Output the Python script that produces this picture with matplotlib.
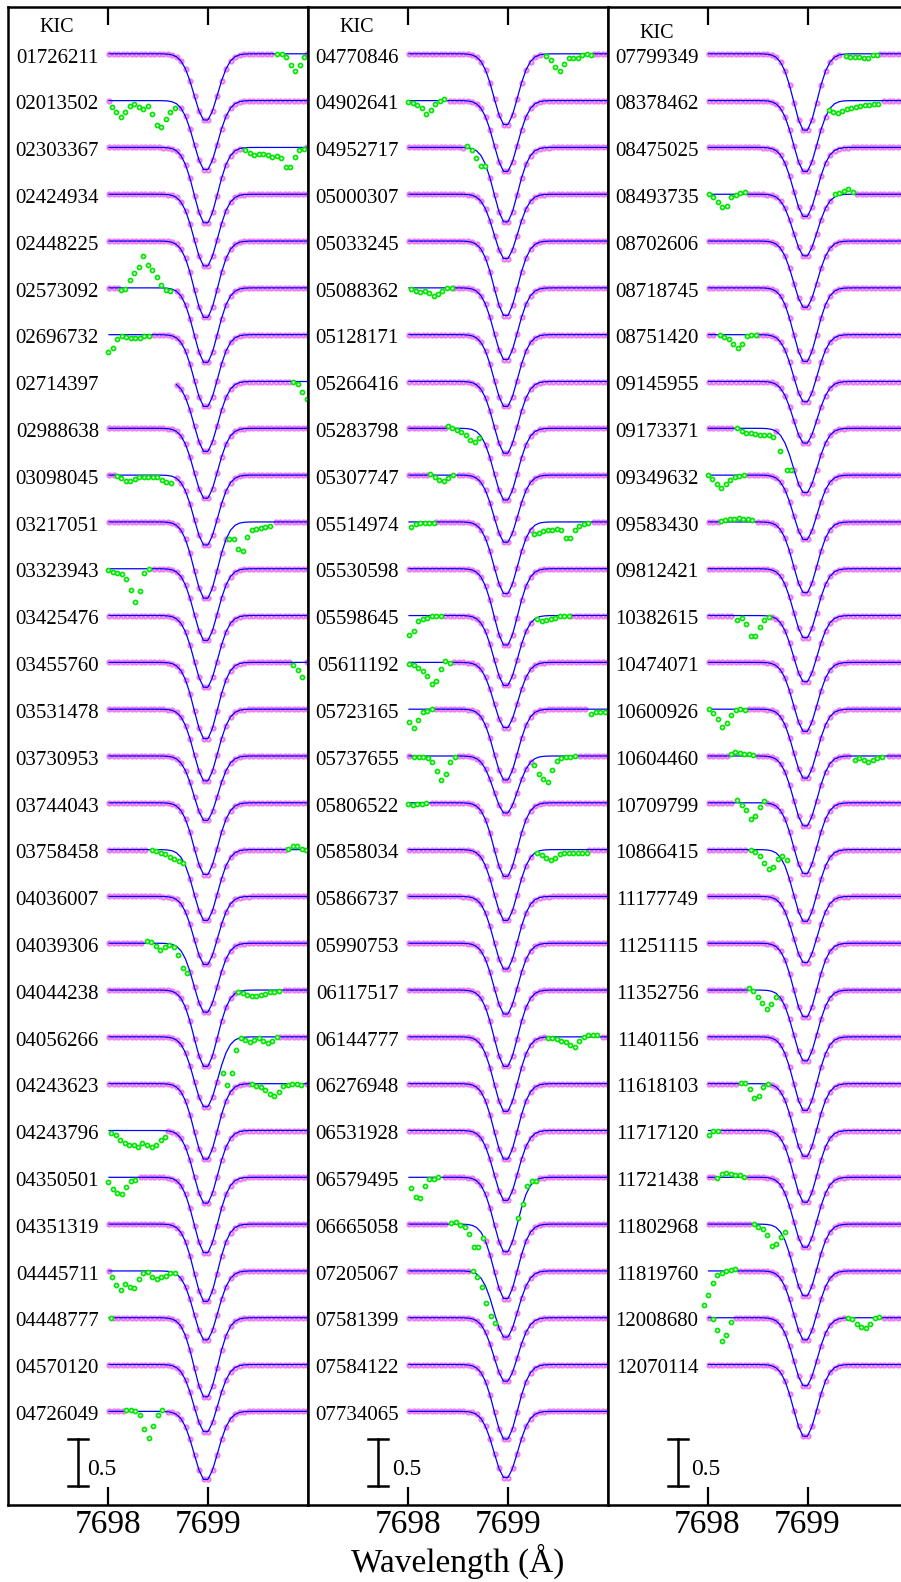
import numpy as np
import matplotlib
matplotlib.use("Agg")
import matplotlib.pyplot as plt

plt.rcParams['font.family'] = ['Liberation Serif', 'DejaVu Serif']

# ---- star identifiers, one list per column ----
KIC_1 = ["01726211", "02013502", "02303367", "02424934", "02448225", "02573092",
         "02696732", "02714397", "02988638", "03098045", "03217051", "03323943",
         "03425476", "03455760", "03531478", "03730953", "03744043", "03758458",
         "04036007", "04039306", "04044238", "04056266", "04243623", "04243796",
         "04350501", "04351319", "04445711", "04448777", "04570120", "04726049"]
KIC_2 = ["04770846", "04902641", "04952717", "05000307", "05033245", "05088362",
         "05128171", "05266416", "05283798", "05307747", "05514974", "05530598",
         "05598645", "05611192", "05723165", "05737655", "05806522", "05858034",
         "05866737", "05990753", "06117517", "06144777", "06276948", "06531928",
         "06579495", "06665058", "07205067", "07581399", "07584122", "07734065"]
KIC_3 = ["07799349", "08378462", "08475025", "08493735", "08702606", "08718745",
         "08751420", "09145955", "09173371", "09349632", "09583430", "09812421",
         "10382615", "10474071", "10600926", "10604460", "10709799", "10866415",
         "11177749", "11251115", "11352756", "11401156", "11618103", "11717120",
         "11721438", "11802968", "11819760", "12008680", "12070114"]

# ---- K I 7699 line depth of each fitted profile ----
DEPTH_1 = [0.72, 0.75, 0.82, 0.78, 0.83, 0.81, 0.78, 0.76, 0.76, 0.76, 0.83, 0.78,
           0.78, 0.83, 0.78, 0.70, 0.78, 0.77, 0.74, 0.75, 0.83, 0.76, 0.82, 0.79,
           0.82, 0.84, 0.75, 0.86, 0.73, 0.74]
DEPTH_2 = [0.77, 0.77, 0.81, 0.70, 0.81, 0.78, 0.78, 0.78, 0.78, 0.73, 0.78, 0.83,
           0.76, 0.71, 0.77, 0.62, 0.80, 0.77, 0.79, 0.77, 0.83, 0.81, 0.82, 0.76,
           0.81, 0.81, 0.72, 0.69, 0.81, 0.72]
DEPTH_3 = [0.83, 0.77, 0.75, 0.67, 0.72, 0.80, 0.73, 0.67, 0.70, 0.70, 0.77, 0.75,
           0.72, 0.75, 0.75, 0.76, 0.77, 0.78, 0.72, 0.80, 0.77, 0.80, 0.79, 0.78,
           0.76, 0.78, 0.75, 0.74, 0.78]

# spectra that begin later than the common grid start
FIRST_WAVE = {"02714397": 7698.65}

# ---- pixels rejected from the fit: (first wavelength, normalised fluxes) ----
MASKED = {
    "01726211": [(7699.69, [1.0, 1.0, 0.965, 0.885, 0.82, 0.88, 0.965])],
    "02013502": [(7698.037, [0.936, 0.876, 0.829, 0.876, 0.943, 0.961, 0.929, 0.907,
                             0.943, 0.858, 0.74, 0.722, 0.801, 0.876, 0.925])],
    "02303367": [(7699.37, [0.968, 0.94, 0.922, 0.929, 0.929, 0.915, 0.893, 0.904,
                            0.886, 0.79, 0.79, 0.897, 0.968, 0.986])],
    "02573092": [(7698.127, [0.975, 0.993, 1.082, 1.16, 1.224, 1.338, 1.242, 1.189,
                             1.117, 1.028, 0.975, 0.968])],
    "02696732": [(7698.003, [0.82, 0.86, 0.95, 0.985, 0.975, 0.965, 0.965, 0.965,
                             0.985, 0.985])],
    "02714397": [(7699.853, [0.99, 0.97, 0.89, 0.81])],
    "03098045": [(7698.087, [0.99, 0.97, 0.935, 0.935, 0.96, 0.985, 0.985, 0.985,
                             0.985, 0.985, 0.95, 0.925, 0.92])],
    "03217051": [(7699.213, [0.82, 0.82, 0.71, 0.69, 0.84, 0.91, 0.92, 0.94, 0.95, 0.96])],
    "03323943": [(7698.0, [0.985, 0.96, 0.95, 0.94, 0.89, 0.77, 0.65, 0.76, 0.95, 1.0])],
    "03455760": [(7699.85, [0.97, 0.92, 0.84])],
    "03758458": [(7698.437, [1.0, 0.985, 0.965, 0.95, 0.925, 0.90, 0.875, 0.86]),
                 (7699.803, [1.01, 1.035, 1.035, 1.01, 1.0])],
    "04039306": [(7698.387, [1.025, 1.01, 0.97, 0.925, 0.965, 0.985, 0.965, 0.87,
                             0.74, 0.68])],
    "04044238": [(7699.303, [0.975, 0.965, 0.95, 0.94, 0.94, 0.95, 0.96, 0.975,
                             0.975, 0.985])],
    "04056266": [(7699.147, [0.617, 0.485, 0.617, 0.857, 0.985, 0.97, 0.95, 0.97,
                             0.985, 0.96, 0.935, 0.96, 0.995])],
    "04243623": [(7699.437, [1.0, 0.975, 0.96, 0.935, 0.885, 0.87, 0.91, 0.97, 0.985,
                             1.0, 1.0, 0.985])],
    "04243796": [(7698.03, [0.975, 0.95, 0.9, 0.87, 0.85, 0.85, 0.82, 0.87, 0.85, 0.82,
                            0.85, 0.9, 0.935])],
    "04350501": [(7698.0, [0.95, 0.87, 0.83, 0.82, 0.90, 0.965, 0.975])],
    "04445711": [(7698.037, [0.94, 0.85, 0.80, 0.865, 0.83, 0.815, 0.915, 0.98, 0.99,
                             0.94, 0.915, 0.94, 0.95, 0.98, 0.98])],
    "04448777": [(7698.03, [1.0])],
    "04726049": [(7698.18, [1.018, 1.014, 1.0, 0.96, 0.81, 0.72, 0.84, 0.96, 1.018])],

    "04770846": [(7699.38, [0.975, 0.93, 0.86, 0.815, 0.89, 0.95, 0.95, 0.95, 0.985,
                            0.993, 0.985])],
    "04902641": [(7698.003, [0.98, 0.97, 0.955, 0.92, 0.86, 0.905, 0.965, 1.0, 1.018])],
    "04952717": [(7698.59, [1.018, 0.975, 0.886, 0.804, 0.804])],
    "05088362": [(7698.03, [0.985, 0.965, 0.96, 0.965, 0.95, 0.915, 0.935, 0.965, 1.0, 1.0])],
    "05283798": [(7698.397, [1.025, 1.0, 0.985, 0.965, 0.925, 0.875, 0.85, 0.9])],
    "05307747": [(7698.223, [1.01, 0.985, 0.95, 0.935, 0.965, 1.0])],
    "05514974": [(7698.03, [0.95, 0.975, 0.985, 0.99, 0.99, 0.99]),
                 (7699.263, [0.875, 0.885, 0.9, 0.915, 0.915, 0.925, 0.91, 0.825, 0.825,
                             0.91, 0.96, 0.975, 0.985])],
    "05598645": [(7698.013, [0.79, 0.84, 0.94, 0.96, 0.975, 0.99, 1.0, 1.0]),
                 (7699.29, [0.96, 0.94, 0.95, 0.96, 0.975, 0.99, 1.0, 0.99])],
    "05611192": [(7698.013, [0.985, 0.975, 0.94, 0.91, 0.85, 0.77, 0.8, 0.925, 1.01, 0.99])],
    "05723165": [(7698.013, [0.86, 0.80, 0.88, 0.965, 0.985, 1.0]),
                 (7699.83, [0.95, 0.965, 0.975, 0.975])],
    "05737655": [(7698.063, [0.99, 0.99, 0.985, 0.975, 0.94, 0.84, 0.74, 0.81, 0.94, 0.99]),
                 (7699.263, [0.9, 0.805, 0.755, 0.72, 0.85, 0.95, 0.975, 0.985, 0.99, 1.0])],
    "05806522": [(7698.0, [0.99, 0.975, 0.985, 0.99, 1.0])],
    "05858034": [(7699.29, [0.965, 0.94, 0.913, 0.893, 0.913, 0.95, 0.965, 0.965, 0.965,
                            0.965, 0.965, 0.965])],
    "06144777": [(7699.397, [0.99, 0.985, 0.975, 0.96, 0.94, 0.91, 0.89, 0.96, 1.0,
                             1.015, 1.015, 1.015])],
    "06579495": [(7698.03, [0.89, 0.79, 0.775, 0.91, 0.985, 0.985, 1.0]),
                 (7699.103, [0.566, 0.72, 0.91, 0.96, 0.96])],
    "06665058": [(7698.43, [1.01, 1.025, 0.99, 0.965, 0.89, 0.755, 0.755, 0.85])],
    "07205067": [(7698.647, [1.0, 0.935, 0.83, 0.66, 0.52, 0.44])],

    "07799349": [(7699.38, [0.975, 0.97, 0.965, 0.965, 0.96, 0.96, 0.985, 0.99])],
    "08378462": [(7699.213, [0.9, 0.876, 0.865, 0.893, 0.911, 0.922, 0.929, 0.947, 0.957,
                             0.957, 0.964, 0.964])],
    "08493735": [(7698.013, [1.0, 0.97, 0.915, 0.86, 0.87, 0.97, 0.99, 1.01, 1.02]),
                 (7699.273, [1.0, 1.01, 1.04, 1.055, 1.02])],
    "08751420": [(7698.12, [1.0, 0.98, 0.955, 0.9, 0.86, 0.9, 0.99, 1.0, 1.0])],
    "09173371": [(7698.297, [1.0, 0.97, 0.95, 0.95, 0.94, 0.925, 0.925, 0.925, 0.905]),
                 (7698.72, [0.76]), (7698.79, [0.56, 0.56])],
    "09349632": [(7698.0, [1.0, 0.955, 0.90, 0.86, 0.90, 0.95, 0.98, 0.99, 1.0]),
                 (7699.96, [1.04])],
    "09583430": [(7698.13, [1.01, 1.02, 1.03, 1.035, 1.04, 1.035, 1.03, 1.02])],
    "10382615": [(7698.297, [0.955, 0.97, 0.915, 0.785, 0.785, 0.88, 0.955, 0.985])],
    "10600926": [(7698.013, [1.0, 0.955, 0.89, 0.81, 0.85, 0.94, 0.99, 1.0, 0.99])],
    "10604460": [(7698.23, [1.02, 1.04, 1.03, 1.02, 1.02, 1.01]),
                 (7699.473, [0.96, 0.98, 0.96, 0.935, 0.96, 0.98, 0.99])],
    "10709799": [(7698.297, [1.03, 0.98, 0.925, 0.83, 0.86, 0.95, 1.02])],
    "10866415": [(7698.43, [1.0, 0.97, 0.93, 0.86, 0.79, 0.81, 0.90, 0.93, 0.89])],
    "11352756": [(7698.413, [1.02, 0.985, 0.925, 0.86, 0.795, 0.85, 0.925])],
    "11618103": [(7698.33, [1.01, 1.01, 0.945, 0.85, 0.87, 0.96, 1.0])],
    "11717120": [(7698.013, [0.955, 1.0, 1.0])],
    "11721438": [(7698.097, [0.99, 1.04, 1.05, 1.04, 1.03, 1.02, 1.0])],
    "11802968": [(7698.463, [1.0, 0.97, 0.95, 0.88, 0.765, 0.785, 0.86, 0.92])],
    "11819760": [(7697.96, [0.64, 0.74, 0.87, 0.96, 0.98, 1.0, 1.01, 1.02])],
    "12008680": [(7698.05, [0.982, 0.865, 0.751, 0.815, 0.957]),
                 (7699.403, [1.0, 0.982, 0.936, 0.9, 0.886, 0.929, 0.993, 1.007])],
}

# ---- sampling and fitted line shape ----
STEP = 0.045
GRID = 7698.01 + STEP * np.arange(45)
LINE_CENTER = 7698.9775
LINE_SIGMA = 0.117
OFFSET = 0.5


def fitted_profile(wave, depth):
    return 1.0 - depth * np.exp(-0.5 * ((wave - LINE_CENTER) / LINE_SIGMA) ** 2)


W, H = 901, 1582
fig = plt.figure(figsize=(W / 100, H / 100), dpi=100)

PINK = "#F07CF0"
GREEN = "#00E600"
columns = [(KIC_1, DEPTH_1), (KIC_2, DEPTH_2), (KIC_3, DEPTH_3)]
left_px = [8, 308, 607.5]
kic_head_y = [1.236, 1.236, 1.169]
bar_text_x = [7697.79, 7697.84, 7697.835]

for c, (kics, depths) in enumerate(columns):
    ax = fig.add_axes([left_px[c] / W, 77 / H, 300 / W, 1498 / H])
    ax.set_xlim(7697.0, 7700.0)
    ax.set_ylim(-14.5, 1.5)

    for k, (kic, depth) in enumerate(zip(kics, depths)):
        off = -OFFSET * k
        start = FIRST_WAVE.get(kic, GRID[0])
        wave = GRID[GRID >= start - 1e-6]
        model = fitted_profile(wave, depth)

        gw, gf = [], []
        for w0, vals in MASKED.get(kic, []):
            gw.extend(w0 + STEP * np.arange(len(vals)))
            gf.extend(vals)
        gw = np.array(gw)
        gf = np.array(gf)

        if gw.size:
            keep = np.min(np.abs(wave[:, None] - gw[None, :]), axis=1) > 0.025
        else:
            keep = np.ones(wave.size, bool)

        ax.plot(wave[keep], model[keep] + off, "o", ms=2.9, mew=1.6,
                mec=PINK, mfc="white", zorder=2)
        ax.plot(wave, model + off, color="#0000FF", lw=0.9, zorder=3)
        if gw.size:
            ax.plot(gw, gf + off, "o", ms=2.9, mew=1.25, mec=GREEN, mfc="white",
                    zorder=4)
        ax.text(7697.91, 1.0 + off - 0.093, kic, ha="right", va="baseline",
                fontsize=15)

    ax.text(7697.49, kic_head_y[c], "KIC", ha="center", va="baseline", fontsize=14.5)

    # 0.5 flux scale bar
    ax.plot([7697.70, 7697.70], [-14.3, -13.8], color="k", lw=1.8)
    ax.plot([7697.60, 7697.80], [-13.8, -13.8], color="k", lw=1.8)
    ax.plot([7697.60, 7697.80], [-14.3, -14.3], color="k", lw=1.8)
    ax.text(bar_text_x[c], -14.18, "0.5", ha="left", va="baseline", fontsize=17)

    ax.set_xticks([7698, 7699])
    ax.set_xticklabels(["7698", "7699"])
    ax.set_yticks([])
    ax.tick_params(axis="x", direction="in", length=13, width=1.6, top=True,
                   bottom=True, labelsize=24, pad=3)
    for s in ax.spines.values():
        s.set_linewidth(1.8)

fig.text(458 / W, 1 - 1572 / H, "Wavelength (Å)", ha="center", va="baseline",
         fontsize=24)

fig.savefig("out.png", dpi=100)
